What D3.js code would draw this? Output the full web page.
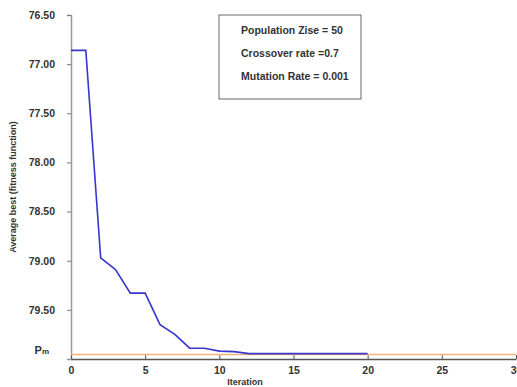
<!DOCTYPE html>
<html>
<head>
<meta charset="utf-8">
<script src="https://cdn.jsdelivr.net/npm/d3@7"></script>
<style>
body { margin: 0; background: #fff; }
text { font-family: Arial, "Liberation Sans", sans-serif; font-weight: bold; fill: #333; }
</style>
</head>
<body>
<svg id="chart" width="517" height="387"></svg>
<script>
// values
var iterations = [0, 1, 2, 3, 4, 5, 6, 7, 8, 9, 10, 11, 12, 20];
var avgBest = [76.86, 76.86, 78.97, 79.09, 79.33, 79.33, 79.65, 79.75, 79.89, 79.89, 79.92, 79.925, 79.945, 79.945];
var pmLevel = 79.955;
var yTicks = [76.5, 77.0, 77.5, 78.0, 78.5, 79.0, 79.5];
var xTicks = [0, 5, 10, 15, 20, 25, 30];
var legendLines = ["Population Zise = 50", "Crossover rate =0.7", "Mutation Rate = 0.001"];

var svg = d3.select("#chart");

var x = d3.scaleLinear().domain([0, 30]).range([71, 516]);
var y = d3.scaleLinear().domain([76.5, 80.0]).range([15, 359]);

// y axis
var yAxis = svg.append("g").attr("transform", "translate(71,0)")
    .call(d3.axisLeft(y).tickValues(yTicks).tickFormat(d3.format(".2f")).tickSize(4).tickPadding(12));
yAxis.select(".domain").attr("stroke", "#999").attr("stroke-width", 1.5);
yAxis.selectAll(".tick line").attr("stroke", "#777");
yAxis.selectAll(".tick text").style("font-size", "10.5px").attr("fill", "#333");

// x axis
var xAxis = svg.append("g").attr("transform", "translate(0,359)")
    .call(d3.axisBottom(x).tickValues(xTicks).tickSize(4).tickSizeOuter(0).tickPadding(4));
xAxis.select(".domain").attr("stroke", "#555").attr("stroke-width", 1.5);
xAxis.selectAll(".tick line").attr("stroke", "#555").attr("transform", "translate(0,-4)");
xAxis.selectAll(".tick text").style("font-size", "10.5px").attr("fill", "#333");

// Pm label
var pm = svg.append("text").attr("x", 49).attr("y", 354).attr("text-anchor", "end");
pm.append("tspan").text("P").style("font-size", "11px");
pm.append("tspan").text("m").style("font-size", "8px");

// orange Pm line
svg.append("line")
    .attr("x1", x(0)).attr("x2", x(30))
    .attr("y1", y(pmLevel)).attr("y2", y(pmLevel))
    .attr("stroke", "#f5b27c").attr("stroke-width", 1.5);

// blue line
var line = d3.line().x(function (d, i) { return x(iterations[i]); }).y(function (d) { return y(d); });
svg.append("path").datum(avgBest)
    .attr("d", line)
    .attr("fill", "none")
    .attr("stroke", "#3636cc")
    .attr("stroke-width", 1.6);

// axis titles
svg.append("text").attr("x", 245).attr("y", 385).attr("text-anchor", "middle")
    .style("font-size", "9px").text("Iteration");
svg.append("text").attr("transform", "translate(16,187) rotate(-90)").attr("text-anchor", "middle")
    .style("font-size", "9px").text("Average best (fitness function)");

// legend box
svg.append("rect").attr("x", 219).attr("y", 15).attr("width", 142).attr("height", 84)
    .attr("fill", "#fff").attr("stroke", "#666").attr("stroke-width", 1);
svg.selectAll(".leg").data(legendLines).enter().append("text")
    .attr("class", "leg")
    .attr("x", 241)
    .attr("y", function (d, i) { return 34 + i * 23; })
    .style("font-size", "10.5px")
    .text(function (d) { return d; });
</script>
</body>
</html>
